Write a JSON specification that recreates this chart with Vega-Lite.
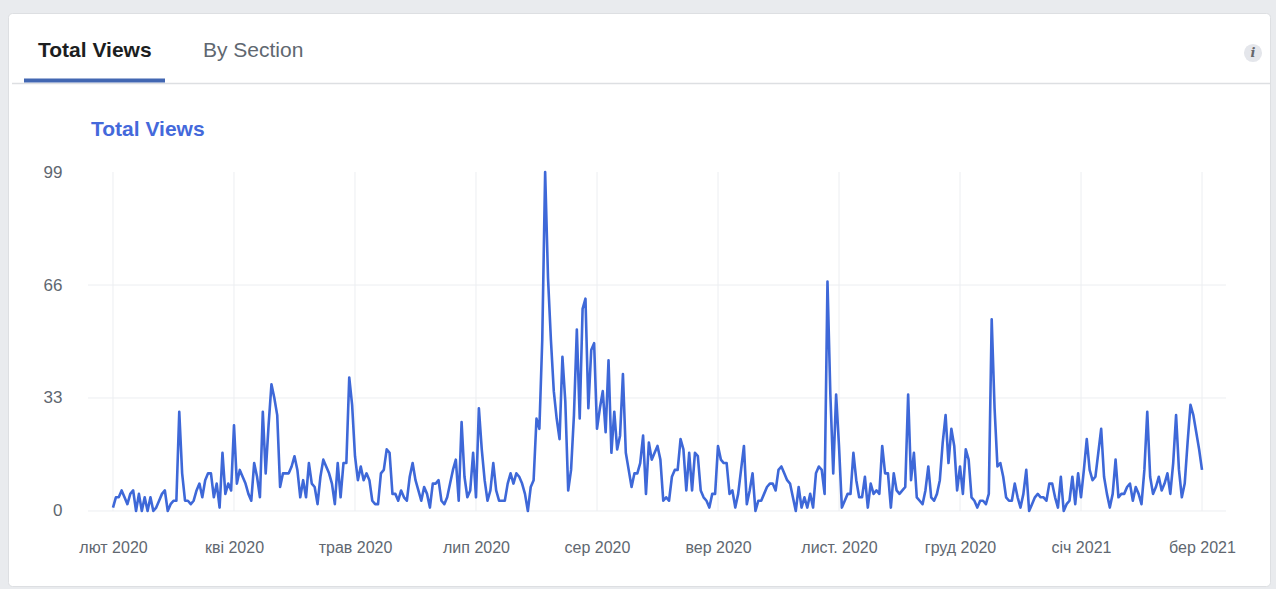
{
"$schema": "https://vega.github.io/schema/vega-lite/v6.json",
"width": 1262,
"height": 573,
"autosize": {"type": "none"},
"padding": {"left": 8, "top": 13, "right": 6, "bottom": 3},
"background": "#e9ebee",
"view": {"fill": "#ffffff", "stroke": "#dddfe2", "strokeWidth": 1, "cornerRadius": 4},
"config": {"font": "Liberation Sans"},
"datasets": {
"levels": [{"level": 0}, {"level": 33}, {"level": 66}],
"ticks": [{"date": "2020-02-28"}, {"date": "2020-04-10"}, {"date": "2020-05-22"}, {"date": "2020-07-03"}, {"date": "2020-08-14"}, {"date": "2020-09-25"}, {"date": "2020-11-06"}, {"date": "2020-12-18"}, {"date": "2021-01-29"}, {"date": "2021-03-12"}],
"views": [
{"date":"2020-02-28","views":1},{"date":"2020-02-29","views":4},
{"date":"2020-03-01","views":4},{"date":"2020-03-02","views":6},{"date":"2020-03-03","views":4},{"date":"2020-03-04","views":2},{"date":"2020-03-05","views":5},{"date":"2020-03-06","views":6},{"date":"2020-03-07","views":0},{"date":"2020-03-08","views":5},{"date":"2020-03-09","views":0},{"date":"2020-03-10","views":4},{"date":"2020-03-11","views":0},{"date":"2020-03-12","views":4},{"date":"2020-03-13","views":0},{"date":"2020-03-14","views":1},{"date":"2020-03-15","views":3},{"date":"2020-03-16","views":5},{"date":"2020-03-17","views":6},{"date":"2020-03-18","views":0},{"date":"2020-03-19","views":2},{"date":"2020-03-20","views":3},{"date":"2020-03-21","views":3},{"date":"2020-03-22","views":29},{"date":"2020-03-23","views":11},{"date":"2020-03-24","views":3},{"date":"2020-03-25","views":3},{"date":"2020-03-26","views":2},{"date":"2020-03-27","views":3},{"date":"2020-03-28","views":6},{"date":"2020-03-29","views":8},{"date":"2020-03-30","views":4},{"date":"2020-03-31","views":9},
{"date":"2020-04-01","views":11},{"date":"2020-04-02","views":11},{"date":"2020-04-03","views":4},{"date":"2020-04-04","views":8},{"date":"2020-04-05","views":1},{"date":"2020-04-06","views":17},{"date":"2020-04-07","views":5},{"date":"2020-04-08","views":8},{"date":"2020-04-09","views":6},{"date":"2020-04-10","views":25},{"date":"2020-04-11","views":8},{"date":"2020-04-12","views":12},{"date":"2020-04-13","views":10},{"date":"2020-04-14","views":8},{"date":"2020-04-15","views":5},{"date":"2020-04-16","views":3},{"date":"2020-04-17","views":14},{"date":"2020-04-18","views":10},{"date":"2020-04-19","views":4},{"date":"2020-04-20","views":29},{"date":"2020-04-21","views":11},{"date":"2020-04-22","views":25},{"date":"2020-04-23","views":37},{"date":"2020-04-24","views":33},{"date":"2020-04-25","views":28},{"date":"2020-04-26","views":7},{"date":"2020-04-27","views":11},{"date":"2020-04-28","views":11},{"date":"2020-04-29","views":11},{"date":"2020-04-30","views":13},
{"date":"2020-05-01","views":16},{"date":"2020-05-02","views":12},{"date":"2020-05-03","views":4},{"date":"2020-05-04","views":9},{"date":"2020-05-05","views":4},{"date":"2020-05-06","views":14},{"date":"2020-05-07","views":8},{"date":"2020-05-08","views":7},{"date":"2020-05-09","views":2},{"date":"2020-05-10","views":10},{"date":"2020-05-11","views":15},{"date":"2020-05-12","views":13},{"date":"2020-05-13","views":11},{"date":"2020-05-14","views":8},{"date":"2020-05-15","views":2},{"date":"2020-05-16","views":14},{"date":"2020-05-17","views":4},{"date":"2020-05-18","views":14},{"date":"2020-05-19","views":14},{"date":"2020-05-20","views":39},{"date":"2020-05-21","views":31},{"date":"2020-05-22","views":16},{"date":"2020-05-23","views":9},{"date":"2020-05-24","views":13},{"date":"2020-05-25","views":9},{"date":"2020-05-26","views":11},{"date":"2020-05-27","views":9},{"date":"2020-05-28","views":3},{"date":"2020-05-29","views":2},{"date":"2020-05-30","views":2},{"date":"2020-05-31","views":11},
{"date":"2020-06-01","views":12},{"date":"2020-06-02","views":18},{"date":"2020-06-03","views":17},{"date":"2020-06-04","views":5},{"date":"2020-06-05","views":5},{"date":"2020-06-06","views":3},{"date":"2020-06-07","views":6},{"date":"2020-06-08","views":4},{"date":"2020-06-09","views":3},{"date":"2020-06-10","views":10},{"date":"2020-06-11","views":14},{"date":"2020-06-12","views":9},{"date":"2020-06-13","views":6},{"date":"2020-06-14","views":3},{"date":"2020-06-15","views":7},{"date":"2020-06-16","views":5},{"date":"2020-06-17","views":1},{"date":"2020-06-18","views":8},{"date":"2020-06-19","views":8},{"date":"2020-06-20","views":9},{"date":"2020-06-21","views":3},{"date":"2020-06-22","views":2},{"date":"2020-06-23","views":4},{"date":"2020-06-24","views":8},{"date":"2020-06-25","views":12},{"date":"2020-06-26","views":15},{"date":"2020-06-27","views":3},{"date":"2020-06-28","views":26},{"date":"2020-06-29","views":10},{"date":"2020-06-30","views":4},
{"date":"2020-07-01","views":6},{"date":"2020-07-02","views":17},{"date":"2020-07-03","views":4},{"date":"2020-07-04","views":30},{"date":"2020-07-05","views":18},{"date":"2020-07-06","views":9},{"date":"2020-07-07","views":3},{"date":"2020-07-08","views":6},{"date":"2020-07-09","views":14},{"date":"2020-07-10","views":6},{"date":"2020-07-11","views":3},{"date":"2020-07-12","views":3},{"date":"2020-07-13","views":3},{"date":"2020-07-14","views":8},{"date":"2020-07-15","views":11},{"date":"2020-07-16","views":8},{"date":"2020-07-17","views":11},{"date":"2020-07-18","views":10},{"date":"2020-07-19","views":8},{"date":"2020-07-20","views":5},{"date":"2020-07-21","views":0},{"date":"2020-07-22","views":7},{"date":"2020-07-23","views":9},{"date":"2020-07-24","views":27},{"date":"2020-07-25","views":24},{"date":"2020-07-26","views":50},{"date":"2020-07-27","views":99},{"date":"2020-07-28","views":68},{"date":"2020-07-29","views":50},{"date":"2020-07-30","views":35},{"date":"2020-07-31","views":27},
{"date":"2020-08-01","views":21},{"date":"2020-08-02","views":45},{"date":"2020-08-03","views":32},{"date":"2020-08-04","views":6},{"date":"2020-08-05","views":12},{"date":"2020-08-06","views":28},{"date":"2020-08-07","views":53},{"date":"2020-08-08","views":27},{"date":"2020-08-09","views":59},{"date":"2020-08-10","views":62},{"date":"2020-08-11","views":30},{"date":"2020-08-12","views":47},{"date":"2020-08-13","views":49},{"date":"2020-08-14","views":24},{"date":"2020-08-15","views":30},{"date":"2020-08-16","views":35},{"date":"2020-08-17","views":23},{"date":"2020-08-18","views":44},{"date":"2020-08-19","views":17},{"date":"2020-08-20","views":29},{"date":"2020-08-21","views":18},{"date":"2020-08-22","views":22},{"date":"2020-08-23","views":40},{"date":"2020-08-24","views":17},{"date":"2020-08-25","views":12},{"date":"2020-08-26","views":7},{"date":"2020-08-27","views":11},{"date":"2020-08-28","views":11},{"date":"2020-08-29","views":14},{"date":"2020-08-30","views":22},{"date":"2020-08-31","views":5},
{"date":"2020-09-01","views":20},{"date":"2020-09-02","views":15},{"date":"2020-09-03","views":17},{"date":"2020-09-04","views":19},{"date":"2020-09-05","views":15},{"date":"2020-09-06","views":3},{"date":"2020-09-07","views":4},{"date":"2020-09-08","views":3},{"date":"2020-09-09","views":10},{"date":"2020-09-10","views":12},{"date":"2020-09-11","views":12},{"date":"2020-09-12","views":21},{"date":"2020-09-13","views":18},{"date":"2020-09-14","views":6},{"date":"2020-09-15","views":17},{"date":"2020-09-16","views":6},{"date":"2020-09-17","views":17},{"date":"2020-09-18","views":16},{"date":"2020-09-19","views":6},{"date":"2020-09-20","views":4},{"date":"2020-09-21","views":3},{"date":"2020-09-22","views":1},{"date":"2020-09-23","views":5},{"date":"2020-09-24","views":5},{"date":"2020-09-25","views":19},{"date":"2020-09-26","views":15},{"date":"2020-09-27","views":14},{"date":"2020-09-28","views":14},{"date":"2020-09-29","views":5},{"date":"2020-09-30","views":6},
{"date":"2020-10-01","views":1},{"date":"2020-10-02","views":5},{"date":"2020-10-03","views":12},{"date":"2020-10-04","views":19},{"date":"2020-10-05","views":2},{"date":"2020-10-06","views":6},{"date":"2020-10-07","views":11},{"date":"2020-10-08","views":0},{"date":"2020-10-09","views":3},{"date":"2020-10-10","views":3},{"date":"2020-10-11","views":5},{"date":"2020-10-12","views":7},{"date":"2020-10-13","views":8},{"date":"2020-10-14","views":8},{"date":"2020-10-15","views":6},{"date":"2020-10-16","views":12},{"date":"2020-10-17","views":13},{"date":"2020-10-18","views":11},{"date":"2020-10-19","views":9},{"date":"2020-10-20","views":8},{"date":"2020-10-21","views":4},{"date":"2020-10-22","views":0},{"date":"2020-10-23","views":7},{"date":"2020-10-24","views":1},{"date":"2020-10-25","views":4},{"date":"2020-10-26","views":1},{"date":"2020-10-27","views":5},{"date":"2020-10-28","views":1},{"date":"2020-10-29","views":11},{"date":"2020-10-30","views":13},{"date":"2020-10-31","views":12},
{"date":"2020-11-01","views":5},{"date":"2020-11-02","views":67},{"date":"2020-11-03","views":34},{"date":"2020-11-04","views":11},{"date":"2020-11-05","views":34},{"date":"2020-11-06","views":19},{"date":"2020-11-07","views":1},{"date":"2020-11-08","views":3},{"date":"2020-11-09","views":5},{"date":"2020-11-10","views":5},{"date":"2020-11-11","views":17},{"date":"2020-11-12","views":9},{"date":"2020-11-13","views":4},{"date":"2020-11-14","views":4},{"date":"2020-11-15","views":10},{"date":"2020-11-16","views":1},{"date":"2020-11-17","views":8},{"date":"2020-11-18","views":5},{"date":"2020-11-19","views":6},{"date":"2020-11-20","views":5},{"date":"2020-11-21","views":19},{"date":"2020-11-22","views":11},{"date":"2020-11-23","views":11},{"date":"2020-11-24","views":1},{"date":"2020-11-25","views":11},{"date":"2020-11-26","views":6},{"date":"2020-11-27","views":5},{"date":"2020-11-28","views":6},{"date":"2020-11-29","views":7},{"date":"2020-11-30","views":34},
{"date":"2020-12-01","views":9},{"date":"2020-12-02","views":17},{"date":"2020-12-03","views":4},{"date":"2020-12-04","views":3},{"date":"2020-12-05","views":2},{"date":"2020-12-06","views":6},{"date":"2020-12-07","views":13},{"date":"2020-12-08","views":4},{"date":"2020-12-09","views":3},{"date":"2020-12-10","views":5},{"date":"2020-12-11","views":9},{"date":"2020-12-12","views":20},{"date":"2020-12-13","views":28},{"date":"2020-12-14","views":14},{"date":"2020-12-15","views":24},{"date":"2020-12-16","views":19},{"date":"2020-12-17","views":6},{"date":"2020-12-18","views":13},{"date":"2020-12-19","views":5},{"date":"2020-12-20","views":18},{"date":"2020-12-21","views":15},{"date":"2020-12-22","views":4},{"date":"2020-12-23","views":3},{"date":"2020-12-24","views":1},{"date":"2020-12-25","views":3},{"date":"2020-12-26","views":3},{"date":"2020-12-27","views":2},{"date":"2020-12-28","views":5},{"date":"2020-12-29","views":56},{"date":"2020-12-30","views":30},{"date":"2020-12-31","views":13},
{"date":"2021-01-01","views":14},{"date":"2021-01-02","views":10},{"date":"2021-01-03","views":4},{"date":"2021-01-04","views":3},{"date":"2021-01-05","views":3},{"date":"2021-01-06","views":8},{"date":"2021-01-07","views":4},{"date":"2021-01-08","views":1},{"date":"2021-01-09","views":5},{"date":"2021-01-10","views":12},{"date":"2021-01-11","views":0},{"date":"2021-01-12","views":2},{"date":"2021-01-13","views":4},{"date":"2021-01-14","views":5},{"date":"2021-01-15","views":4},{"date":"2021-01-16","views":4},{"date":"2021-01-17","views":3},{"date":"2021-01-18","views":8},{"date":"2021-01-19","views":8},{"date":"2021-01-20","views":4},{"date":"2021-01-21","views":1},{"date":"2021-01-22","views":10},{"date":"2021-01-23","views":0},{"date":"2021-01-24","views":2},{"date":"2021-01-25","views":3},{"date":"2021-01-26","views":10},{"date":"2021-01-27","views":2},{"date":"2021-01-28","views":11},{"date":"2021-01-29","views":4},{"date":"2021-01-30","views":12},{"date":"2021-01-31","views":21},
{"date":"2021-02-01","views":12},{"date":"2021-02-02","views":9},{"date":"2021-02-03","views":10},{"date":"2021-02-04","views":17},{"date":"2021-02-05","views":24},{"date":"2021-02-06","views":10},{"date":"2021-02-07","views":5},{"date":"2021-02-08","views":1},{"date":"2021-02-09","views":5},{"date":"2021-02-10","views":15},{"date":"2021-02-11","views":4},{"date":"2021-02-12","views":5},{"date":"2021-02-13","views":5},{"date":"2021-02-14","views":7},{"date":"2021-02-15","views":8},{"date":"2021-02-16","views":3},{"date":"2021-02-17","views":7},{"date":"2021-02-18","views":5},{"date":"2021-02-19","views":2},{"date":"2021-02-20","views":12},{"date":"2021-02-21","views":29},{"date":"2021-02-22","views":10},{"date":"2021-02-23","views":5},{"date":"2021-02-24","views":7},{"date":"2021-02-25","views":10},{"date":"2021-02-26","views":6},{"date":"2021-02-27","views":8},{"date":"2021-02-28","views":11},
{"date":"2021-03-01","views":5},{"date":"2021-03-02","views":14},{"date":"2021-03-03","views":28},{"date":"2021-03-04","views":12},{"date":"2021-03-05","views":4},{"date":"2021-03-06","views":8},{"date":"2021-03-07","views":20},{"date":"2021-03-08","views":31},{"date":"2021-03-09","views":28},{"date":"2021-03-10","views":23},{"date":"2021-03-11","views":18},{"date":"2021-03-12","views":12}
]
},
"layer": [
{
"data": {"name": "levels"},
"mark": {"type": "rule", "color": "#eceef1", "strokeWidth": 1},
"encoding": {
"y": {"field": "level", "type": "quantitative", "title": null},
"x": {"datum": {"year": 2020, "month": 2, "date": 19, "hours": 7, "minutes": 44, "utc": true}, "type": "temporal", "scale": {"type": "utc"}, "title": null},
"x2": {"datum": {"year": 2021, "month": 3, "date": 20, "hours": 7, "minutes": 55, "utc": true}}
}
},
{
"data": {"name": "ticks"},
"mark": {"type": "rule", "color": "#eceef1", "strokeWidth": 1},
"encoding": {
"x": {"field": "date", "type": "temporal", "scale": {"type": "utc"}, "title": null},
"y": {"datum": 0, "type": "quantitative", "title": null},
"y2": {"datum": 99}
}
},
{
"data": {"name": "views"},
"mark": {"type": "line", "color": "#3e68d8", "strokeWidth": 2.6, "strokeJoin": "round"},
"encoding": {
"x": {"field": "date", "type": "temporal", "title": null,
"scale": {"type": "utc", "domain": [{"year": 2020, "month": 1, "date": 22, "hours": 13, "minutes": 18, "utc": true}, {"year": 2021, "month": 4, "date": 4, "hours": 14, "minutes": 28, "utc": true}]},
"axis": {"values": [{"year": 2020, "month": 2, "date": 28, "utc": true}, {"year": 2020, "month": 4, "date": 10, "utc": true}, {"year": 2020, "month": 5, "date": 22, "utc": true}, {"year": 2020, "month": 7, "date": 3, "utc": true}, {"year": 2020, "month": 8, "date": 14, "utc": true}, {"year": 2020, "month": 9, "date": 25, "utc": true}, {"year": 2020, "month": 11, "date": 6, "utc": true}, {"year": 2020, "month": 12, "date": 18, "utc": true}, {"year": 2021, "month": 1, "date": 29, "utc": true}, {"year": 2021, "month": 3, "date": 12, "utc": true}],
"labelExpr": "['січ','лют','бер','кві','трав','черв','лип','сер','вер','жовт','лист.','груд'][utcmonth(datum.value)] + ' ' + utcyear(datum.value)",
"domain": false, "ticks": false, "tickSize": 0, "grid": false,
"labelFont": "Liberation Sans", "labelFontSize": 16, "labelColor": "#606770",
"labelPadding": 0, "labelBaseline": "middle", "offset": -39, "labelFlush": false, "labelOverlap": false}},
"y": {"field": "views", "type": "quantitative", "title": null,
"scale": {"domain": [-21.903, 145.434], "nice": false, "zero": false},
"axis": {"values": [0, 33, 66, 99], "domain": false, "ticks": false, "tickSize": 0, "grid": false,
"labelFont": "Liberation Sans", "labelFontSize": 17, "labelColor": "#606770", "labelPadding": 0, "offset": -54}}
}
},
{
"data": {"values": [{"label": "Total Views"}]},
"mark": {"type": "text", "align": "left", "baseline": "middle", "font": "Liberation Sans", "fontSize": 21, "fontWeight": "bold", "color": "#1c1e21"},
"encoding": {
"text": {"field": "label"},
"x": {"datum": {"year": 2020, "month": 2, "date": 1, "hours": 23, "minutes": 12, "utc": true}, "type": "temporal", "scale": {"type": "utc"}},
"y": {"datum": 134.34, "type": "quantitative"}
}
},
{
"data": {"values": [{"label": "By Section"}]},
"mark": {"type": "text", "align": "left", "baseline": "middle", "font": "Liberation Sans", "fontSize": 21, "color": "#606770"},
"encoding": {
"text": {"field": "label"},
"x": {"datum": {"year": 2020, "month": 3, "date": 30, "hours": 5, "minutes": 46, "utc": true}, "type": "temporal", "scale": {"type": "utc"}},
"y": {"datum": 134.34, "type": "quantitative"}
}
},
{
"data": {"values": [{}]},
"mark": {"type": "rule", "color": "#dddfe2", "strokeWidth": 1.5},
"encoding": {
"x": {"datum": {"year": 2020, "month": 1, "date": 23, "hours": 22, "minutes": 36, "utc": true}, "type": "temporal", "scale": {"type": "utc"}},
"x2": {"datum": {"year": 2021, "month": 4, "date": 4, "hours": 14, "minutes": 28, "utc": true}},
"y": {"datum": 124.85, "type": "quantitative"}
}
},
{
"data": {"values": [{}]},
"mark": {"type": "rule", "color": "#4267b2", "strokeWidth": 4, "strokeCap": "butt"},
"encoding": {
"x": {"datum": {"year": 2020, "month": 1, "date": 28, "hours": 2, "minutes": 34, "utc": true}, "type": "temporal", "scale": {"type": "utc"}},
"x2": {"datum": {"year": 2020, "month": 3, "date": 17, "hours": 1, "minutes": 12, "utc": true}},
"y": {"datum": 125.73, "type": "quantitative"}
}
},
{
"data": {"values": [{}]},
"mark": {"type": "point", "shape": "circle", "filled": true, "size": 330, "color": "#e4e6eb", "opacity": 1},
"encoding": {
"x": {"datum": {"year": 2021, "month": 3, "date": 29, "hours": 16, "minutes": 48, "utc": true}, "type": "temporal", "scale": {"type": "utc"}},
"y": {"datum": 133.75, "type": "quantitative"}
}
},
{
"data": {"values": [{"label": "i"}]},
"mark": {"type": "text", "align": "center", "baseline": "middle", "font": "DejaVu Serif", "fontSize": 13, "fontStyle": "italic", "fontWeight": "bold", "color": "#65676b"},
"encoding": {
"text": {"field": "label"},
"x": {"datum": {"year": 2021, "month": 3, "date": 29, "hours": 16, "minutes": 48, "utc": true}, "type": "temporal", "scale": {"type": "utc"}},
"y": {"datum": 133.75, "type": "quantitative"}
}
},
{
"data": {"values": [{"label": "Total Views"}]},
"mark": {"type": "text", "align": "left", "baseline": "middle", "font": "Liberation Sans", "fontSize": 21, "fontWeight": "bold", "color": "#4469db"},
"encoding": {
"text": {"field": "label"},
"x": {"datum": {"year": 2020, "month": 2, "date": 20, "hours": 8, "minutes": 44, "utc": true}, "type": "temporal", "scale": {"type": "utc"}},
"y": {"datum": 111.27, "type": "quantitative"}
}
}
]
}
